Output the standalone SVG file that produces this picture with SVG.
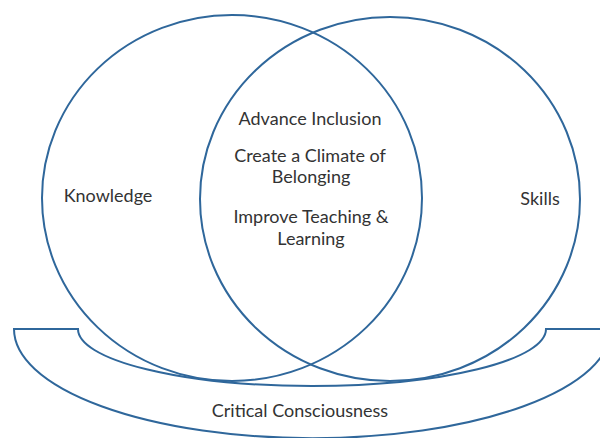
<svg xmlns="http://www.w3.org/2000/svg" width="600" height="438" viewBox="0 0 600 438">
<style>
.ln{fill:none;stroke:#2f679b;stroke-width:2}
.t{font-family:Lato,"Liberation Sans",sans-serif;font-size:18px;fill:#333;text-anchor:middle}
</style>
<rect width="600" height="438" fill="#fff"/>
<g id="connectors"></g>
<g id="critical-consciousness">
<path class="ln" d="M14,329 L78,329 A234,57 0 0 0 546,329 L611,329 A298,109 0 0 1 14,329 Z"/>
<text class="t" x="300" y="417">Critical Consciousness</text>
</g>
<g id="knowledge">
<ellipse class="ln" cx="232" cy="198" rx="190" ry="183"/>
<text class="t" x="108" y="202">Knowledge</text>
</g>
<g id="skills">
<ellipse class="ln" cx="390" cy="199" rx="190" ry="182"/>
<text class="t" x="540" y="205">Skills</text>
</g>
<g id="overlap">
<text class="t" x="310" y="125">Advance Inclusion</text>
<text class="t" x="310" y="162">Create a Climate of</text>
<text class="t" x="311" y="183">Belonging</text>
<text class="t" x="311" y="223">Improve Teaching &amp;</text>
<text class="t" x="311" y="245">Learning</text>
</g>
</svg>
